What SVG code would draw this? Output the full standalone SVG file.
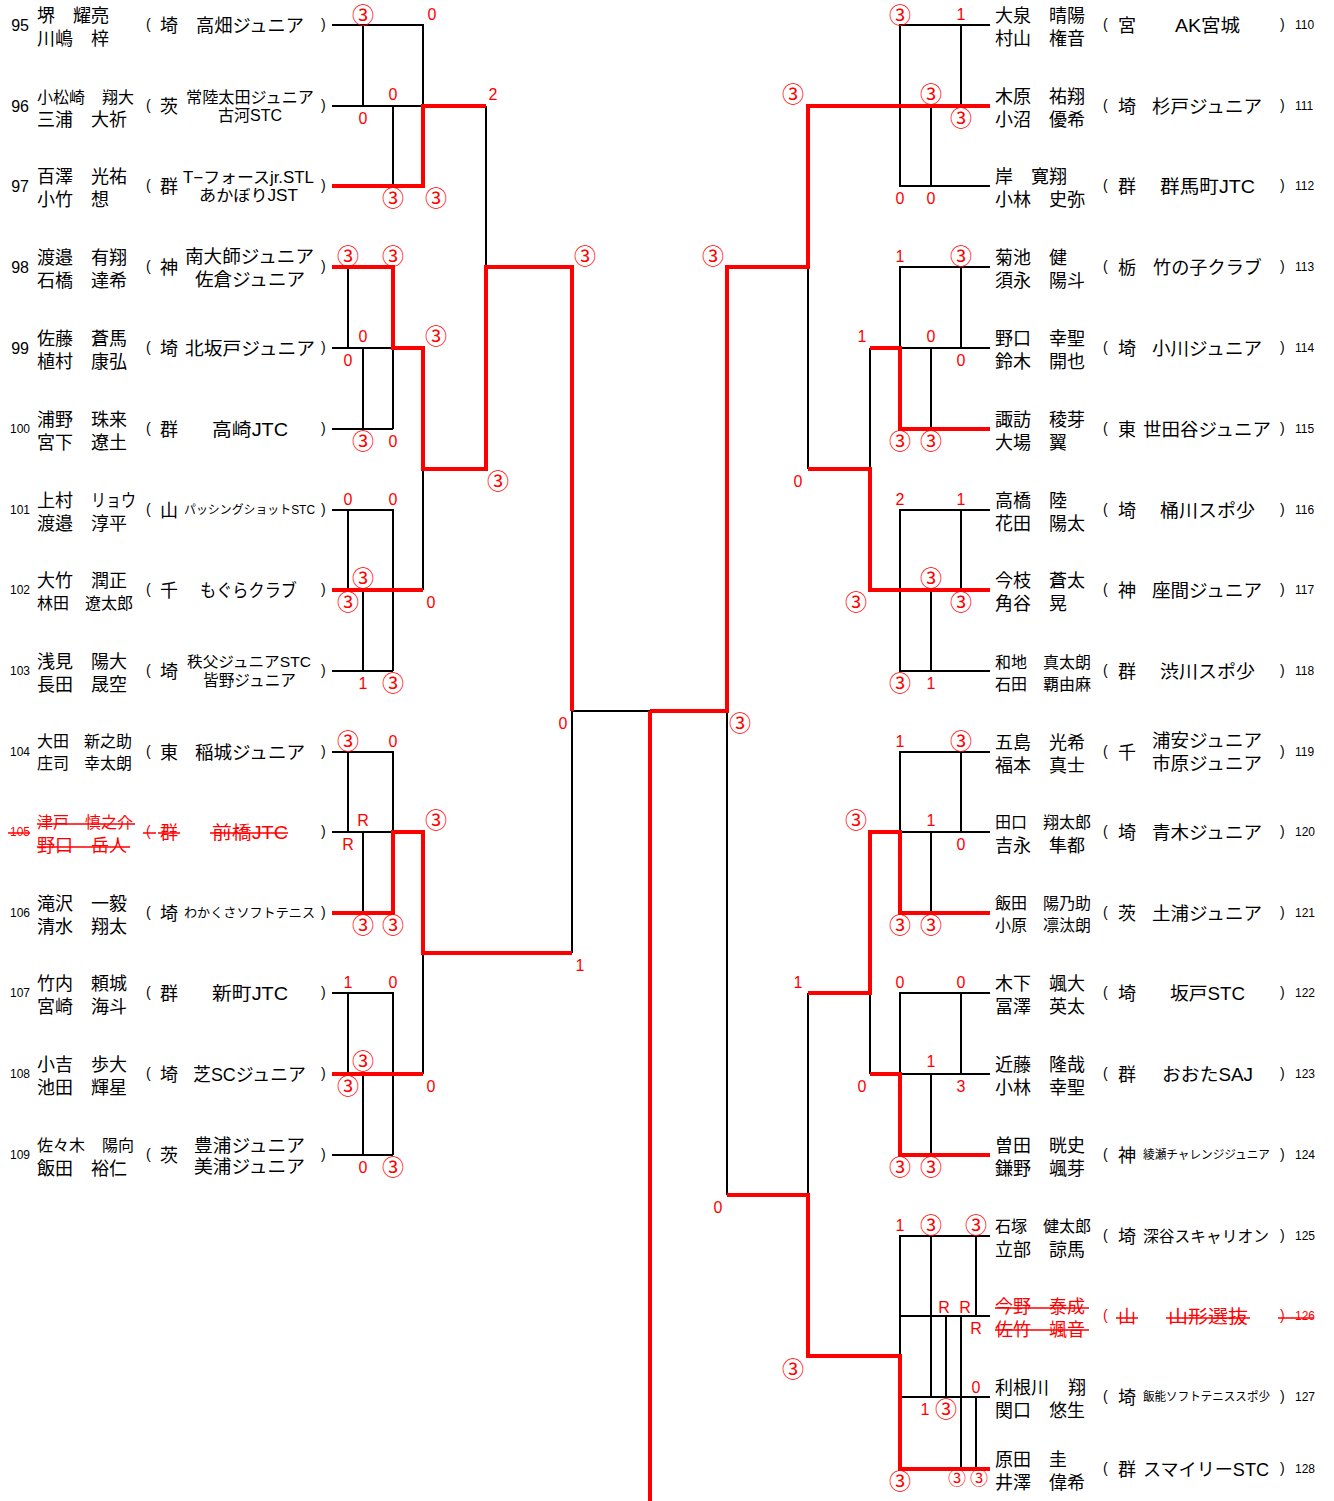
<svg xmlns="http://www.w3.org/2000/svg" width="1334" height="1501" viewBox="0 0 1334 1501">
<style>
.nm{font-family:"Liberation Sans","Noto Sans CJK JP",sans-serif;font-size:18px;fill:#000}
.m{font-size:16px}
.s12{font-size:12px}
.s13{font-size:13px}
.s15{font-size:15px}
.no{font-family:"Liberation Sans",sans-serif;font-size:16px;fill:#000;text-anchor:end}
.n3{font-family:"Liberation Sans",sans-serif;font-size:12px;fill:#000}
.pa{font-family:"Liberation Sans",sans-serif;font-size:14px;fill:#000}
.red{fill:#f00}
.st{stroke:#f00;stroke-width:1.5}
.d{font-family:"Liberation Sans",sans-serif;font-size:16px;fill:#f00;text-anchor:middle}
.c{font-family:"Noto Sans CJK JP",sans-serif;font-size:22px;fill:#f00;text-anchor:middle}
.cs{font-size:18px}
.bk{stroke:#000;stroke-width:2;fill:none}
.rd{stroke:#f00;stroke-width:4;fill:none}
</style>
<rect width="1334" height="1501" fill="#fff"/>

<g id="connectors">
<g class="bk">
<path d="M332,25H423V106M363,25V106M332,106H423M393,106V186M486,106V267"/>
<path d="M348,267V348M332,348H393M363,348V429M393,348V429M332,429H393"/>
<path d="M332,510H393V671M348,510V590M363,590V671M332,671H393M423,469V590"/>
<path d="M332,752H393V832M348,752V832M332,832H393M363,832V913"/>
<path d="M332,993H393V1155M348,993V1074M363,1074V1155M332,1155H393M423,953V1074"/>
<path d="M572,711V953M572,711H650"/>
<path d="M990,25H900V186H990M961,25V106M931,106V186"/>
<path d="M990,267H900V348H990M961,267V348M931,348V429M808,267V469M870,348V469"/>
<path d="M990,510H900V671H990M961,510V590M931,590V671"/>
<path d="M727,711V1195"/>
<path d="M990,752H900V832H990M961,752V832M931,832V913"/>
<path d="M990,993H900V1074H990M961,993V1074M931,1074V1155M870,993V1074"/>
<path d="M808,993V1195"/>
<path d="M990,1236H900V1356M931,1236V1397M976,1236V1316M990,1316H900M946,1316V1397M961,1316V1469M900,1397H990M976,1397V1469"/>
</g>
<g class="rd">
<path d="M332,186H423V106H486"/>
<path d="M332,267H393V348H423V469H486V267H572V711"/>
<path d="M332,590H423"/>
<path d="M332,913H393V832H423V953H572"/>
<path d="M332,1074H423"/>
<path d="M650,711V1501"/>
<path d="M990,106H808V267H727V711H650"/>
<path d="M870,348H900V429H990"/>
<path d="M808,469H870V590H990"/>
<path d="M990,913H900V832H870V993H808"/>
<path d="M870,1074H900V1155H990"/>
<path d="M727,1195H808V1356H900V1469H990"/>
</g>
</g>

<g id="e95"><text class="no" x="29" y="31">95</text><text class="nm" y="22"><tspan x="37">堺</tspan><tspan x="73">耀亮</tspan></text><text class="nm" y="45"><tspan x="37">川嶋</tspan><tspan x="91">梓</tspan></text><text class="pa" x="146" y="29">(</text><text class="nm" x="160" y="32">埼</text><text class="nm" x="196" y="32" textLength="108" lengthAdjust="spacingAndGlyphs">高畑ジュニア</text><text class="pa" x="321" y="29">)</text></g>
<g id="e96"><text class="no" x="29" y="112">96</text><text class="nm m" y="103"><tspan x="37">小松崎</tspan><tspan x="102">翔大</tspan></text><text class="nm" y="126"><tspan x="37">三浦</tspan><tspan x="91">大祈</tspan></text><text class="pa" x="146" y="110">(</text><text class="nm" x="160" y="113">茨</text><text class="nm m" x="186" y="103" textLength="128" lengthAdjust="spacingAndGlyphs">常陸太田ジュニア</text><text class="nm m" x="218" y="121" textLength="64" lengthAdjust="spacingAndGlyphs">古河STC</text><text class="pa" x="321" y="110">)</text></g>
<g id="e97"><text class="no" x="29" y="192">97</text><text class="nm" y="183"><tspan x="37">百澤</tspan><tspan x="91">光祐</tspan></text><text class="nm" y="206"><tspan x="37">小竹</tspan><tspan x="91">想</tspan></text><text class="pa" x="146" y="190">(</text><text class="nm" x="160" y="193">群</text><text class="nm m" x="183" y="183" textLength="131" lengthAdjust="spacingAndGlyphs">T−フォースjr.STL</text><text class="nm m" x="199" y="201" textLength="99" lengthAdjust="spacingAndGlyphs">あかぼりJST</text><text class="pa" x="321" y="190">)</text></g>
<g id="e98"><text class="no" x="29" y="273">98</text><text class="nm" y="264"><tspan x="37">渡邉</tspan><tspan x="91">有翔</tspan></text><text class="nm" y="287"><tspan x="37">石橋</tspan><tspan x="91">達希</tspan></text><text class="pa" x="146" y="271">(</text><text class="nm" x="160" y="274">神</text><text class="nm" x="185" y="263" textLength="129" lengthAdjust="spacingAndGlyphs">南大師ジュニア</text><text class="nm" x="195" y="286" textLength="110" lengthAdjust="spacingAndGlyphs">佐倉ジュニア</text><text class="pa" x="321" y="271">)</text></g>
<g id="e99"><text class="no" x="29" y="354">99</text><text class="nm" y="345"><tspan x="37">佐藤</tspan><tspan x="91">蒼馬</tspan></text><text class="nm" y="368"><tspan x="37">植村</tspan><tspan x="91">康弘</tspan></text><text class="pa" x="146" y="352">(</text><text class="nm" x="160" y="355">埼</text><text class="nm" x="185" y="355" textLength="130" lengthAdjust="spacingAndGlyphs">北坂戸ジュニア</text><text class="pa" x="321" y="352">)</text></g>
<g id="e100"><text class="n3" x="10" y="433">100</text><text class="nm" y="426"><tspan x="37">浦野</tspan><tspan x="91">珠来</tspan></text><text class="nm" y="449"><tspan x="37">宮下</tspan><tspan x="91">遼土</tspan></text><text class="pa" x="146" y="433">(</text><text class="nm" x="160" y="436">群</text><text class="nm" x="212" y="436" textLength="76" lengthAdjust="spacingAndGlyphs">高崎JTC</text><text class="pa" x="321" y="433">)</text></g>
<g id="e101"><text class="n3" x="10" y="514">101</text><text class="nm" y="507"><tspan x="37">上村</tspan></text><text class="nm" x="91" y="507" textLength="45" lengthAdjust="spacingAndGlyphs">リョウ</text><text class="nm" y="530"><tspan x="37">渡邉</tspan><tspan x="91">淳平</tspan></text><text class="pa" x="146" y="514">(</text><text class="nm" x="160" y="517">山</text><text class="nm s12" x="184" y="514" textLength="131" lengthAdjust="spacingAndGlyphs">パッシングショットSTC</text><text class="pa" x="321" y="514">)</text></g>
<g id="e102"><text class="n3" x="10" y="594">102</text><text class="nm" y="587"><tspan x="37">大竹</tspan><tspan x="91">潤正</tspan></text><text class="nm m" y="609"><tspan x="37">林田</tspan><tspan x="85">遼太郎</tspan></text><text class="pa" x="146" y="594">(</text><text class="nm" x="160" y="597">千</text><text class="nm" x="200" y="597" textLength="97" lengthAdjust="spacingAndGlyphs">もぐらクラブ</text><text class="pa" x="321" y="594">)</text></g>
<g id="e103"><text class="n3" x="10" y="675">103</text><text class="nm" y="668"><tspan x="37">浅見</tspan><tspan x="91">陽大</tspan></text><text class="nm" y="691"><tspan x="37">長田</tspan><tspan x="91">晟空</tspan></text><text class="pa" x="146" y="675">(</text><text class="nm" x="160" y="678">埼</text><text class="nm s15" x="187" y="667" textLength="124" lengthAdjust="spacingAndGlyphs">秩父ジュニアSTC</text><text class="nm m" x="203" y="686" textLength="93" lengthAdjust="spacingAndGlyphs">皆野ジュニア</text><text class="pa" x="321" y="675">)</text></g>
<g id="e104"><text class="n3" x="10" y="756">104</text><text class="nm m" y="747"><tspan x="37">大田</tspan><tspan x="84">新之助</tspan></text><text class="nm m" y="769"><tspan x="37">庄司</tspan><tspan x="84">幸太朗</tspan></text><text class="pa" x="146" y="756">(</text><text class="nm" x="160" y="759">東</text><text class="nm" x="195" y="759" textLength="110" lengthAdjust="spacingAndGlyphs">稲城ジュニア</text><text class="pa" x="321" y="756">)</text></g>
<g id="e105"><text class="n3 red" x="10" y="836">105</text><text class="nm m red" y="828"><tspan x="37">津戸</tspan><tspan x="85">慎之介</tspan></text><text class="nm red" y="852"><tspan x="37">野口</tspan><tspan x="91">岳人</tspan></text><text class="pa red" x="146" y="836">(</text><text class="nm red" x="160" y="839">群</text><text class="nm red" x="212" y="839" textLength="76" lengthAdjust="spacingAndGlyphs">前橋JTC</text><text class="pa" x="321" y="836">)</text><path class="st" d="M8,833H30M37,824H135M37,847H130M143,833H156M158,833H180M210,833H288"/></g>
<g id="e106"><text class="n3" x="10" y="917">106</text><text class="nm" y="910"><tspan x="37">滝沢</tspan><tspan x="91">一毅</tspan></text><text class="nm" y="933"><tspan x="37">清水</tspan><tspan x="91">翔太</tspan></text><text class="pa" x="146" y="917">(</text><text class="nm" x="160" y="920">埼</text><text class="nm s13" x="184" y="917" textLength="131" lengthAdjust="spacingAndGlyphs">わかくさソフトテニス</text><text class="pa" x="321" y="917">)</text></g>
<g id="e107"><text class="n3" x="10" y="997">107</text><text class="nm" y="990"><tspan x="37">竹内</tspan><tspan x="91">頼城</tspan></text><text class="nm" y="1013"><tspan x="37">宮崎</tspan><tspan x="91">海斗</tspan></text><text class="pa" x="146" y="997">(</text><text class="nm" x="160" y="1000">群</text><text class="nm" x="212" y="1000" textLength="76" lengthAdjust="spacingAndGlyphs">新町JTC</text><text class="pa" x="321" y="997">)</text></g>
<g id="e108"><text class="n3" x="10" y="1078">108</text><text class="nm" y="1071"><tspan x="37">小吉</tspan><tspan x="91">歩大</tspan></text><text class="nm" y="1094"><tspan x="37">池田</tspan><tspan x="91">輝星</tspan></text><text class="pa" x="146" y="1078">(</text><text class="nm" x="160" y="1081">埼</text><text class="nm" x="193" y="1081" textLength="113" lengthAdjust="spacingAndGlyphs">芝SCジュニア</text><text class="pa" x="321" y="1078">)</text></g>
<g id="e109"><text class="n3" x="10" y="1159">109</text><text class="nm m" y="1151"><tspan x="37">佐々木</tspan><tspan x="102">陽向</tspan></text><text class="nm" y="1175"><tspan x="37">飯田</tspan><tspan x="91">裕仁</tspan></text><text class="pa" x="146" y="1159">(</text><text class="nm" x="160" y="1162">茨</text><text class="nm" x="194" y="1152" textLength="111" lengthAdjust="spacingAndGlyphs">豊浦ジュニア</text><text class="nm" x="194" y="1173" textLength="111" lengthAdjust="spacingAndGlyphs">美浦ジュニア</text><text class="pa" x="321" y="1159">)</text></g>

<g id="e110"><text class="nm" y="22"><tspan x="995">大泉</tspan><tspan x="1049">晴陽</tspan></text><text class="nm" y="45"><tspan x="995">村山</tspan><tspan x="1049">権音</tspan></text><text class="pa" x="1103" y="29">(</text><text class="nm" x="1118" y="32">宮</text><text class="nm" x="1175" y="32" textLength="65" lengthAdjust="spacingAndGlyphs">AK宮城</text><text class="pa" x="1280" y="29">)</text><text class="n3" x="1295" y="29">110</text></g>
<g id="e111"><text class="nm" y="103"><tspan x="995">木原</tspan><tspan x="1049">祐翔</tspan></text><text class="nm" y="126"><tspan x="995">小沼</tspan><tspan x="1049">優希</tspan></text><text class="pa" x="1103" y="110">(</text><text class="nm" x="1118" y="113">埼</text><text class="nm" x="1152" y="113" textLength="110" lengthAdjust="spacingAndGlyphs">杉戸ジュニア</text><text class="pa" x="1280" y="110">)</text><text class="n3" x="1295" y="110">111</text></g>
<g id="e112"><text class="nm" y="183"><tspan x="995">岸</tspan><tspan x="1031">寛翔</tspan></text><text class="nm" y="206"><tspan x="995">小林</tspan><tspan x="1049">史弥</tspan></text><text class="pa" x="1103" y="190">(</text><text class="nm" x="1118" y="193">群</text><text class="nm" x="1160" y="193" textLength="95" lengthAdjust="spacingAndGlyphs">群馬町JTC</text><text class="pa" x="1280" y="190">)</text><text class="n3" x="1295" y="190">112</text></g>
<g id="e113"><text class="nm" y="264"><tspan x="995">菊池</tspan><tspan x="1049">健</tspan></text><text class="nm" y="287"><tspan x="995">須永</tspan><tspan x="1049">陽斗</tspan></text><text class="pa" x="1103" y="271">(</text><text class="nm" x="1118" y="274">栃</text><text class="nm" x="1153" y="274" textLength="109" lengthAdjust="spacingAndGlyphs">竹の子クラブ</text><text class="pa" x="1280" y="271">)</text><text class="n3" x="1295" y="271">113</text></g>
<g id="e114"><text class="nm" y="345"><tspan x="995">野口</tspan><tspan x="1049">幸聖</tspan></text><text class="nm" y="368"><tspan x="995">鈴木</tspan><tspan x="1049">開也</tspan></text><text class="pa" x="1103" y="352">(</text><text class="nm" x="1118" y="355">埼</text><text class="nm" x="1152" y="355" textLength="110" lengthAdjust="spacingAndGlyphs">小川ジュニア</text><text class="pa" x="1280" y="352">)</text><text class="n3" x="1295" y="352">114</text></g>
<g id="e115"><text class="nm" y="426"><tspan x="995">諏訪</tspan><tspan x="1049">稜芽</tspan></text><text class="nm" y="449"><tspan x="995">大場</tspan><tspan x="1049">翼</tspan></text><text class="pa" x="1103" y="433">(</text><text class="nm" x="1118" y="436">東</text><text class="nm" x="1143" y="436" textLength="128" lengthAdjust="spacingAndGlyphs">世田谷ジュニア</text><text class="pa" x="1280" y="433">)</text><text class="n3" x="1295" y="433">115</text></g>
<g id="e116"><text class="nm" y="507"><tspan x="995">高橋</tspan><tspan x="1049">陸</tspan></text><text class="nm" y="530"><tspan x="995">花田</tspan><tspan x="1049">陽太</tspan></text><text class="pa" x="1103" y="514">(</text><text class="nm" x="1118" y="517">埼</text><text class="nm" x="1160" y="517" textLength="95" lengthAdjust="spacingAndGlyphs">桶川スポ少</text><text class="pa" x="1280" y="514">)</text><text class="n3" x="1295" y="514">116</text></g>
<g id="e117"><text class="nm" y="587"><tspan x="995">今枝</tspan><tspan x="1049">蒼太</tspan></text><text class="nm" y="610"><tspan x="995">角谷</tspan><tspan x="1049">晃</tspan></text><text class="pa" x="1103" y="594">(</text><text class="nm" x="1118" y="597">神</text><text class="nm" x="1152" y="597" textLength="110" lengthAdjust="spacingAndGlyphs">座間ジュニア</text><text class="pa" x="1280" y="594">)</text><text class="n3" x="1295" y="594">117</text></g>
<g id="e118"><text class="nm m" y="668"><tspan x="995">和地</tspan><tspan x="1043">真太朗</tspan></text><text class="nm m" y="690"><tspan x="995">石田</tspan><tspan x="1043">覇由麻</tspan></text><text class="pa" x="1103" y="675">(</text><text class="nm" x="1118" y="678">群</text><text class="nm" x="1160" y="678" textLength="95" lengthAdjust="spacingAndGlyphs">渋川スポ少</text><text class="pa" x="1280" y="675">)</text><text class="n3" x="1295" y="675">118</text></g>
<g id="e119"><text class="nm" y="749"><tspan x="995">五島</tspan><tspan x="1049">光希</tspan></text><text class="nm" y="772"><tspan x="995">福本</tspan><tspan x="1049">真士</tspan></text><text class="pa" x="1103" y="756">(</text><text class="nm" x="1118" y="759">千</text><text class="nm" x="1152" y="747" textLength="110" lengthAdjust="spacingAndGlyphs">浦安ジュニア</text><text class="nm" x="1152" y="770" textLength="110" lengthAdjust="spacingAndGlyphs">市原ジュニア</text><text class="pa" x="1280" y="756">)</text><text class="n3" x="1295" y="756">119</text></g>
<g id="e120"><text class="nm m" y="828"><tspan x="995">田口</tspan><tspan x="1043">翔太郎</tspan></text><text class="nm" y="852"><tspan x="995">吉永</tspan><tspan x="1049">隼都</tspan></text><text class="pa" x="1103" y="836">(</text><text class="nm" x="1118" y="839">埼</text><text class="nm" x="1152" y="839" textLength="110" lengthAdjust="spacingAndGlyphs">青木ジュニア</text><text class="pa" x="1280" y="836">)</text><text class="n3" x="1295" y="836">120</text></g>
<g id="e121"><text class="nm m" y="909"><tspan x="995">飯田</tspan><tspan x="1043">陽乃助</tspan></text><text class="nm m" y="931"><tspan x="995">小原</tspan><tspan x="1043">凛汰朗</tspan></text><text class="pa" x="1103" y="917">(</text><text class="nm" x="1118" y="920">茨</text><text class="nm" x="1152" y="920" textLength="110" lengthAdjust="spacingAndGlyphs">土浦ジュニア</text><text class="pa" x="1280" y="917">)</text><text class="n3" x="1295" y="917">121</text></g>
<g id="e122"><text class="nm" y="990"><tspan x="995">木下</tspan><tspan x="1049">颯大</tspan></text><text class="nm" y="1013"><tspan x="995">冨澤</tspan><tspan x="1049">英太</tspan></text><text class="pa" x="1103" y="997">(</text><text class="nm" x="1118" y="1000">埼</text><text class="nm" x="1170" y="1000" textLength="75" lengthAdjust="spacingAndGlyphs">坂戸STC</text><text class="pa" x="1280" y="997">)</text><text class="n3" x="1295" y="997">122</text></g>
<g id="e123"><text class="nm" y="1071"><tspan x="995">近藤</tspan><tspan x="1049">隆哉</tspan></text><text class="nm" y="1094"><tspan x="995">小林</tspan><tspan x="1049">幸聖</tspan></text><text class="pa" x="1103" y="1078">(</text><text class="nm" x="1118" y="1081">群</text><text class="nm" x="1162" y="1081" textLength="91" lengthAdjust="spacingAndGlyphs">おおたSAJ</text><text class="pa" x="1280" y="1078">)</text><text class="n3" x="1295" y="1078">123</text></g>
<g id="e124"><text class="nm" y="1152"><tspan x="995">曽田</tspan><tspan x="1049">晄史</tspan></text><text class="nm" y="1175"><tspan x="995">鎌野</tspan><tspan x="1049">颯芽</tspan></text><text class="pa" x="1103" y="1159">(</text><text class="nm" x="1118" y="1162">神</text><text class="nm s12" x="1143" y="1159" textLength="127" lengthAdjust="spacingAndGlyphs">綾瀬チャレンジジュニア</text><text class="pa" x="1280" y="1159">)</text><text class="n3" x="1295" y="1159">124</text></g>
<g id="e125"><text class="nm m" y="1232"><tspan x="995">石塚</tspan><tspan x="1043">健太郎</tspan></text><text class="nm" y="1256"><tspan x="995">立部</tspan><tspan x="1049">諒馬</tspan></text><text class="pa" x="1103" y="1240">(</text><text class="nm" x="1118" y="1243">埼</text><text class="nm m" x="1143" y="1242" textLength="126" lengthAdjust="spacingAndGlyphs">深谷スキャリオン</text><text class="pa" x="1280" y="1240">)</text><text class="n3" x="1295" y="1240">125</text></g>
<g id="e126"><text class="nm red" y="1313"><tspan x="995">今野</tspan><tspan x="1049">泰成</tspan></text><text class="nm red" y="1336"><tspan x="995">佐竹</tspan><tspan x="1049">颯音</tspan></text><text class="pa red" x="1103" y="1320">(</text><text class="nm red" x="1118" y="1323">山</text><text class="nm red" x="1168" y="1323" textLength="80" lengthAdjust="spacingAndGlyphs">山形選抜</text><text class="pa red" x="1280" y="1320">)</text><text class="n3 red" x="1295" y="1320">126</text><path class="st" d="M995,1308H1089M995,1330H1089M1116,1318H1138M1166,1318H1250M1278,1318H1314"/></g>
<g id="e127"><text class="nm" y="1394"><tspan x="995">利根川</tspan><tspan x="1068">翔</tspan></text><text class="nm" y="1417"><tspan x="995">関口</tspan><tspan x="1049">悠生</tspan></text><text class="pa" x="1103" y="1401">(</text><text class="nm" x="1118" y="1404">埼</text><text class="nm s12" x="1143" y="1401" textLength="127" lengthAdjust="spacingAndGlyphs">飯能ソフトテニススポ少</text><text class="pa" x="1280" y="1401">)</text><text class="n3" x="1295" y="1401">127</text></g>
<g id="e128"><text class="nm" y="1466"><tspan x="995">原田</tspan><tspan x="1049">圭</tspan></text><text class="nm" y="1489"><tspan x="995">井澤</tspan><tspan x="1049">偉希</tspan></text><text class="pa" x="1103" y="1473">(</text><text class="nm" x="1118" y="1476">群</text><text class="nm" x="1143" y="1476" textLength="126" lengthAdjust="spacingAndGlyphs">スマイリーSTC</text><text class="pa" x="1280" y="1473">)</text><text class="n3" x="1295" y="1473">128</text></g>

<g id="scores">
<text class="c" x="363" y="23">③</text><text class="d" x="432" y="20">0</text><text class="d" x="393" y="100">0</text><text class="d" x="363" y="124">0</text><text class="d" x="493" y="100">2</text><text class="c" x="393" y="206">③</text><text class="c" x="436" y="206">③</text>
<text class="c" x="348" y="264">③</text><text class="c" x="393" y="264">③</text><text class="d" x="363" y="342">0</text><text class="d" x="348" y="366">0</text><text class="c" x="436" y="344">③</text><text class="c" x="363" y="449">③</text><text class="d" x="393" y="447">0</text><text class="c" x="498" y="489">③</text><text class="c" x="585" y="264">③</text>
<text class="d" x="348" y="505">0</text><text class="d" x="393" y="505">0</text><text class="c" x="363" y="586">③</text><text class="c" x="348" y="610">③</text><text class="d" x="431" y="608">0</text><text class="d" x="363" y="689">1</text><text class="c" x="393" y="691">③</text>
<text class="c" x="348" y="749">③</text><text class="d" x="393" y="747">0</text><text class="d" x="363" y="826">R</text><text class="d" x="348" y="850">R</text><text class="c" x="436" y="828">③</text><text class="c" x="363" y="933">③</text><text class="c" x="393" y="933">③</text>
<text class="d" x="348" y="988">1</text><text class="d" x="393" y="988">0</text><text class="c" x="363" y="1069">③</text><text class="c" x="348" y="1094">③</text><text class="d" x="431" y="1092">0</text><text class="d" x="363" y="1173">0</text><text class="c" x="393" y="1175">③</text>
<text class="d" x="563" y="729">0</text><text class="d" x="580" y="971">1</text>
<text class="c" x="900" y="23">③</text><text class="d" x="961" y="20">1</text><text class="c" x="793" y="102">③</text><text class="c" x="931" y="102">③</text><text class="c" x="961" y="126">③</text><text class="d" x="900" y="204">0</text><text class="d" x="931" y="204">0</text>
<text class="d" x="900" y="262">1</text><text class="c" x="961" y="264">③</text><text class="d" x="862" y="342">1</text><text class="d" x="931" y="342">0</text><text class="d" x="961" y="366">0</text><text class="c" x="900" y="449">③</text><text class="c" x="931" y="449">③</text><text class="c" x="713" y="264">③</text>
<text class="d" x="798" y="487">0</text>
<text class="d" x="900" y="505">2</text><text class="d" x="961" y="505">1</text><text class="c" x="931" y="586">③</text><text class="c" x="856" y="610">③</text><text class="c" x="961" y="610">③</text><text class="c" x="900" y="691">③</text><text class="d" x="931" y="689">1</text>
<text class="c" x="740" y="731">③</text>
<text class="d" x="900" y="747">1</text><text class="c" x="961" y="749">③</text><text class="c" x="856" y="828">③</text><text class="d" x="931" y="826">1</text><text class="d" x="961" y="850">0</text><text class="c" x="900" y="933">③</text><text class="c" x="931" y="933">③</text>
<text class="d" x="798" y="988">1</text>
<text class="d" x="900" y="988">0</text><text class="d" x="961" y="988">0</text><text class="d" x="931" y="1067">1</text><text class="d" x="862" y="1092">0</text><text class="d" x="961" y="1092">3</text><text class="c" x="900" y="1175">③</text><text class="c" x="931" y="1175">③</text>
<text class="d" x="718" y="1213">0</text>
<text class="d" x="900" y="1231">1</text><text class="c" x="931" y="1233">③</text><text class="c" x="976" y="1233">③</text><text class="d" x="944" y="1313">R</text><text class="d" x="965" y="1313">R</text><text class="d" x="976" y="1334">R</text><text class="d" x="976" y="1393">0</text><text class="d" x="925" y="1415">1</text><text class="c" x="946" y="1417">③</text><text class="c" x="793" y="1377">③</text><text class="c" x="900" y="1489">③</text><text class="c cs" x="957" y="1485">③</text><text class="c cs" x="979" y="1485">③</text>
</g>
</svg>
